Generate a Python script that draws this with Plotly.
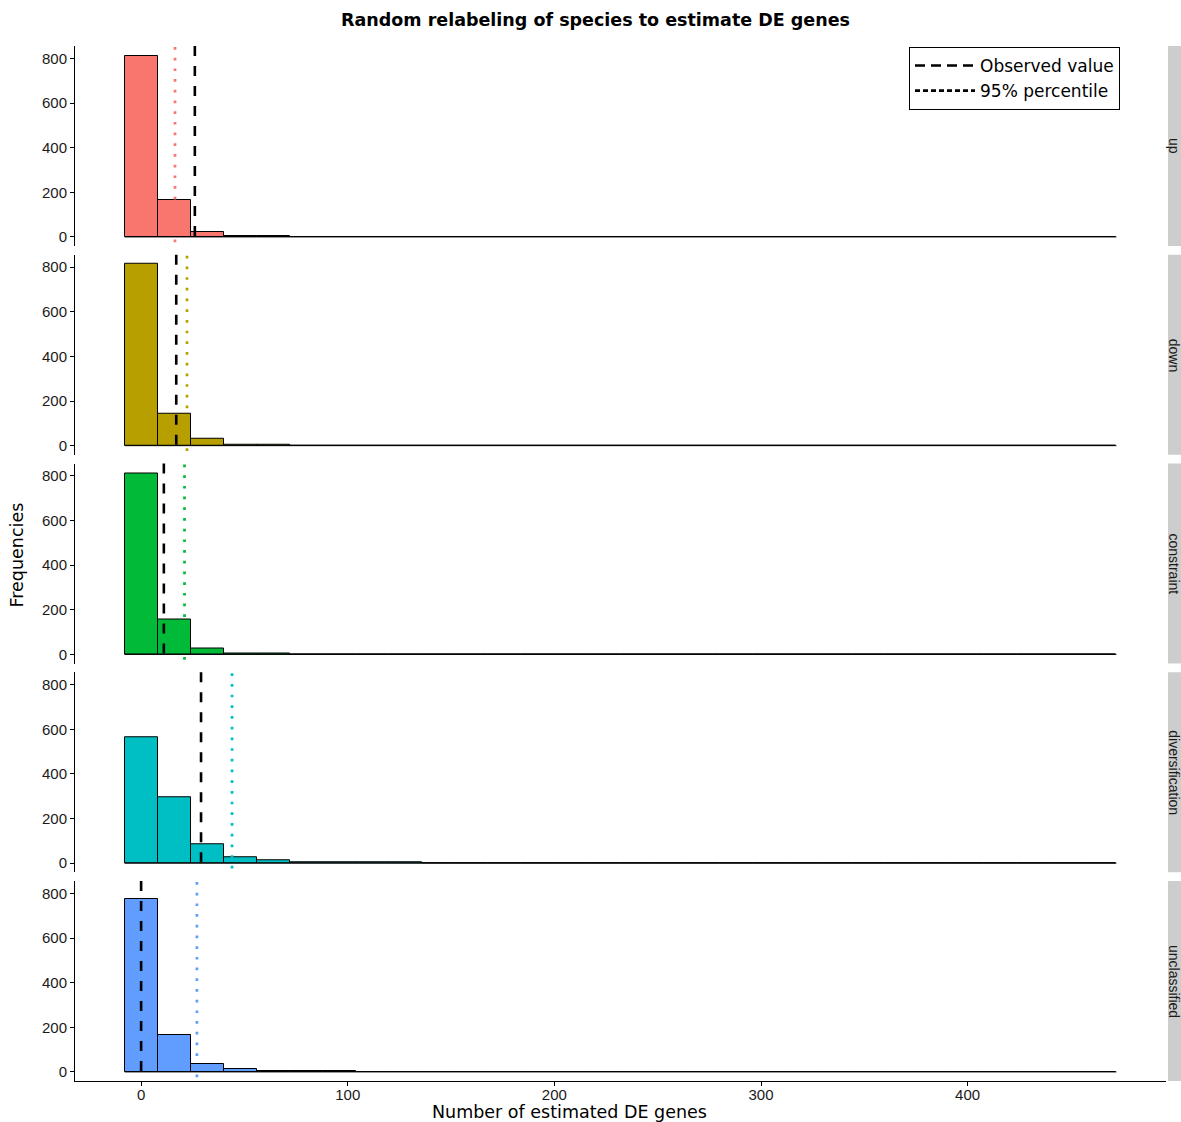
import numpy as np
import plotly.graph_objects as go
from plotly.subplots import make_subplots

# ---- data ----
GROUPS = ["up", "down", "constraint", "diversification", "unclassified"]
COLORS = ["#F8766D", "#B79F00", "#00BA38", "#00BFC4", "#619CFF"]
BIN_START = -8
BIN_WIDTH = 16
N_BINS = 30
COUNTS_UP = [809, 164, 21, 4, 2]
COUNTS_DOWN = [815, 145, 33, 3, 2, 1, 1]
COUNTS_CONSTRAINT = [812, 157, 25, 4, 2]
COUNTS_DIVERSIFICATION = [564, 295, 85, 27, 15, 4, 3, 2, 2, 0, 1]
COUNTS_UNCLASSIFIED = [775, 165, 36, 12, 4, 2, 2, 1, 1]
OBSERVED = [26, 17, 11, 29, 0]
PERCENTILE95 = [16.4, 22.2, 21, 44, 27]
X_TICKS = [0, 100, 200, 300, 400]
Y_TICKS = [0, 200, 400, 600, 800]

COUNTS = [COUNTS_UP, COUNTS_DOWN, COUNTS_CONSTRAINT, COUNTS_DIVERSIFICATION, COUNTS_UNCLASSIFIED]

edges = BIN_START + BIN_WIDTH * np.arange(N_BINS + 1)
centers = (edges[:-1] + edges[1:]) / 2

W, H = 1181, 1122
ML, MR, MT, MB = 75, 15, 46, 41
PW = W - ML - MR
PH = H - MT - MB

fig = make_subplots(rows=5, cols=1, shared_xaxes=True, vertical_spacing=8.75 / PH)

ymax = max(max(c) for c in COUNTS)
yrange = [-0.05 * ymax, 1.05 * ymax]
xspan = edges[-1] - edges[0]
xrange = [edges[0] - 0.05 * xspan, edges[-1] + 0.05 * xspan]

tickfont = dict(family="Liberation Sans, Arial", size=15, color="#1a1a1a")

for i, (g, col, cnt) in enumerate(zip(GROUPS, COLORS, COUNTS)):
    r = i + 1
    full = list(cnt) + [0] * (N_BINS - len(cnt))
    # baseline for empty bins
    fig.add_trace(go.Scatter(x=[edges[0], edges[-1]], y=[0, 0], mode="lines",
                             line=dict(color="black", width=1), showlegend=False,
                             hoverinfo="skip"), row=r, col=1)
    fig.add_trace(go.Bar(x=centers, y=full, width=BIN_WIDTH, marker=dict(color=col, line=dict(color="black", width=1)),
                         showlegend=False, name=g), row=r, col=1)
    sfx = "" if r == 1 else str(r)
    fig.add_shape(type="line", xref="x" + sfx, yref="y" + sfx + " domain",
                  x0=OBSERVED[i], x1=OBSERVED[i], y0=1, y1=0,
                  line=dict(color="black", width=2.6, dash="10px,10px"))
    fig.add_shape(type="line", xref="x" + sfx, yref="y" + sfx + " domain",
                  x0=PERCENTILE95[i], x1=PERCENTILE95[i], y0=0.995, y1=0,
                  line=dict(color=col, width=2.7, dash="2.7px,8px"))
    fig.update_yaxes(range=yrange, tickvals=Y_TICKS, showgrid=False, zeroline=False,
                     showline=True, linecolor="black", linewidth=1, ticks="outside", ticklen=4,
                     tickcolor="black", tickfont=tickfont, row=r, col=1)
    last = (r == 5)
    fig.update_xaxes(range=xrange, tickvals=X_TICKS, showgrid=False, zeroline=False,
                     showline=last, linecolor="black", linewidth=1,
                     ticks="outside" if last else "", ticklen=4, tickcolor="black",
                     showticklabels=last, tickfont=tickfont, row=r, col=1)
fig.update_xaxes(ticklabelstandoff=-4, row=5, col=1)

# legend entries
fig.add_trace(go.Scatter(x=[None], y=[None], mode="lines", name="Observed value",
                         line=dict(color="black", width=2.6, dash="10px,6px")), row=1, col=1)
fig.add_trace(go.Scatter(x=[None], y=[None], mode="lines", name="95% percentile",
                         line=dict(color="black", width=2.7, dash="5px,3px")), row=1, col=1)

# strips
gap = 8.75 / PH
panel_h = (1 - 4 * gap) / 5
strip_x0 = (1168 - ML) / PW
strip_x1 = (1195 - ML) / PW
for i, g in enumerate(GROUPS):
    top = 1 - i * (panel_h + gap)
    bot = top - panel_h
    fig.add_shape(type="rect", xref="paper", yref="paper", x0=strip_x0, x1=strip_x1, y0=bot, y1=top,
                  fillcolor="#CDCDCD", line=dict(width=0), layer="above")
    fig.add_annotation(x=(1174 - ML) / PW, y=(top + bot) / 2, xref="paper", yref="paper",
                       text=g, textangle=90, showarrow=False, xanchor="center", yanchor="middle",
                       font=dict(family="Liberation Sans, Arial", size=14, color="#1a1a1a"))

# axis titles
fig.add_annotation(x=(569.5 - ML) / PW, y=-(1112 - (H - MB)) / PH, xref="paper", yref="paper",
                   text="Number of estimated DE genes", showarrow=False, xanchor="center", yanchor="middle",
                   font=dict(family="DejaVu Sans", size=17.5, color="black"))
fig.add_annotation(x=-(ML - 16) / PW, y=1 - (555.5 - MT) / PH, xref="paper", yref="paper",
                   text="Frequencies", textangle=-90, showarrow=False, xanchor="center", yanchor="middle",
                   font=dict(family="DejaVu Sans", size=17.5, color="black"))

fig.update_layout(
    width=W, height=H,
    margin=dict(l=ML, r=MR, t=MT, b=MB),
    paper_bgcolor="white", plot_bgcolor="white",
    bargap=0,
    font=dict(family="DejaVu Sans", color="black"),
    title=dict(text="<b>Random relabeling of species to estimate DE genes</b>", x=595.5 / W, xanchor="center",
               y=1 - 20 / H, yanchor="middle", font=dict(family="DejaVu Sans", size=17.5, color="black")),
    legend=dict(x=(1120 - ML) / PW, xanchor="right", y=1 - 1 / PH, yanchor="top",
                bgcolor="white", bordercolor="black", borderwidth=1, itemwidth=60,
                font=dict(family="DejaVu Sans", size=17, color="black"), tracegroupgap=0),
)

fig.write_html("out.html", config={"displayModeBar": False},
               post_script="document.body.style.margin='0';document.body.style.padding='0';")
